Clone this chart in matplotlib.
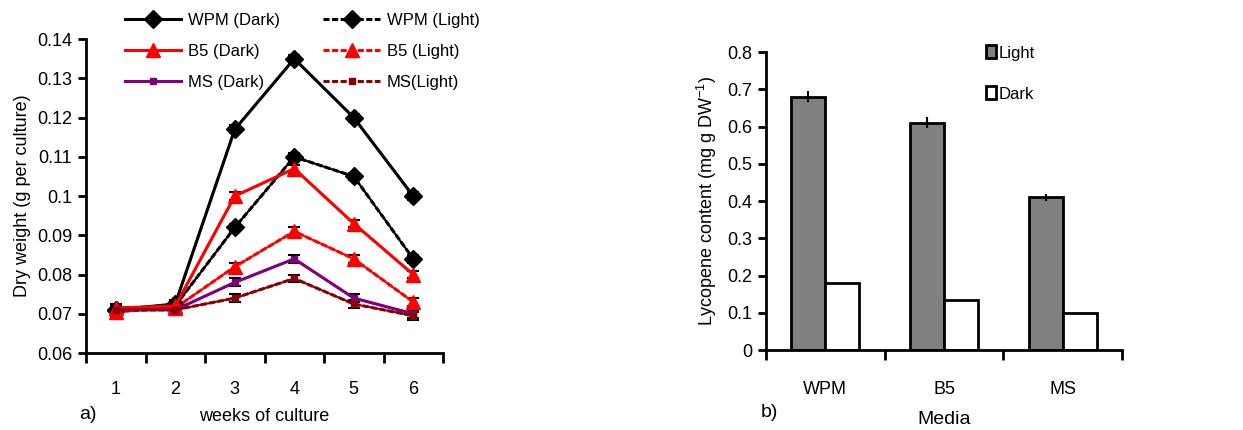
import numpy as np
import matplotlib
matplotlib.use("Agg")
import matplotlib.pyplot as plt
from matplotlib.patches import Patch

plt.rcParams['font.family'] = ['Liberation Sans', 'DejaVu Sans']
plt.rcParams['mathtext.default'] = 'regular'

# a) dry weight by week
weeks = [1, 2, 3, 4, 5, 6]
wpm_dark = [0.071, 0.0725, 0.117, 0.135, 0.120, 0.100]
wpm_light = [0.071, 0.072, 0.092, 0.110, 0.105, 0.084]
b5_dark = [0.0715, 0.072, 0.100, 0.107, 0.093, 0.080]
b5_light = [0.0705, 0.0715, 0.082, 0.091, 0.084, 0.073]
ms_dark = [0.071, 0.071, 0.078, 0.084, 0.074, 0.070]
ms_light = [0.071, 0.071, 0.074, 0.079, 0.0725, 0.0695]
err_a = 0.001

# b) lycopene content
media = ["WPM", "B5", "MS"]
lyc_light = [0.68, 0.61, 0.41]
lyc_dark = [0.18, 0.135, 0.10]
lyc_light_err = [0.015, 0.015, 0.01]

fig = plt.figure(figsize=(12.43, 4.30), dpi=100)

# ---- panel a
ax1 = fig.add_axes([0.0692, 0.179, 0.2872, 0.730])
dash = (0, (2, 0.8))
series = [
    (wpm_dark, "WPM (Dark)", "black", "-", "D", 9),
    (wpm_light, "WPM (Light)", "black", dash, "D", 9),
    (b5_dark, "B5 (Dark)", "#ff0000", "-", "^", 10),
    (b5_light, "B5 (Light)", "#ff0000", dash, "^", 10),
    (ms_dark, "MS (Dark)", "#800080", "-", "s", 5),
    (ms_light, "MS(Light)", "#8b0000", dash, "s", 5),
]
lines = {}
for vals, lab, col, ls, mk, ms in series:
    ax1.errorbar(weeks, vals, yerr=err_a, color=col, ecolor="black", elinewidth=1.5,
                 capsize=4, capthick=1.5, zorder=2)
    ln, = ax1.plot(weeks, vals, color=col, linestyle=ls, lw=2.2, marker=mk, markersize=ms,
                   label=lab, zorder=3)
    lines[lab] = ln

ax1.set_xlim(0.5, 6.5)
ax1.set_ylim(0.06, 0.14)
ax1.set_yticks(np.arange(0.06, 0.1401, 0.01))
ax1.set_yticklabels(["0.06", "0.07", "0.08", "0.09", "0.1", "0.11", "0.12", "0.13", "0.14"])
ax1.set_xticks(np.arange(0.5, 6.6, 1))
ax1.set_xticklabels([])
ax1.set_xticks(weeks, minor=True)
ax1.set_xticklabels([str(w) for w in weeks], minor=True)
ax1.tick_params(axis="x", which="minor", length=0, pad=20, labelsize=13)
ax1.tick_params(axis="x", which="major", length=7, width=2, direction="out")
ax1.tick_params(axis="y", length=6, width=2, direction="out", labelsize=13, pad=4)
for s in ["top", "right"]:
    ax1.spines[s].set_visible(False)
for s in ["left", "bottom"]:
    ax1.spines[s].set_linewidth(2)
ax1.set_ylabel("Dry weight (g per culture)", fontsize=13, labelpad=4)
ax1.set_xlabel("weeks of culture", fontsize=13, labelpad=7)
fig.text(0.064, 0.025, "a)", fontsize=14)
order = ["WPM (Dark)", "B5 (Dark)", "MS (Dark)", "WPM (Light)", "B5 (Light)", "MS(Light)"]
ax1.legend([lines[k] for k in order], order, loc="upper left", bbox_to_anchor=(0.095, 0.985),
           bbox_transform=fig.transFigure, ncol=2, frameon=False, fontsize=12,
           handlelength=3.4, labelspacing=0.95, columnspacing=2.6, handletextpad=0.4,
           borderaxespad=0)

# ---- panel b
ax2 = fig.add_axes([0.6163, 0.186, 0.2864, 0.693])
x = np.arange(len(media))
w = 0.2857
ax2.bar(x - w / 2, lyc_light, w, color="#808080", edgecolor="black", lw=2, label="Light",
        yerr=lyc_light_err, error_kw=dict(elinewidth=1.5, ecolor="black", capsize=0))
ax2.bar(x + w / 2, lyc_dark, w, color="white", edgecolor="black", lw=2, label="Dark")
ax2.set_xlim(-0.5, 2.5)
ax2.set_ylim(0, 0.8)
ax2.set_yticks(np.arange(0, 0.81, 0.1))
ax2.set_yticklabels(["0", "0.1", "0.2", "0.3", "0.4", "0.5", "0.6", "0.7", "0.8"])
ax2.set_xticks(np.arange(-0.5, 2.6, 1))
ax2.set_xticklabels([])
ax2.set_xticks(x, minor=True)
ax2.set_xticklabels(media, minor=True)
ax2.tick_params(axis="x", which="minor", length=0, pad=22, labelsize=13)
ax2.tick_params(axis="x", which="major", length=7, width=2, direction="out")
ax2.tick_params(axis="y", length=6, width=2, direction="out", labelsize=13, pad=4)
for s in ["top", "right"]:
    ax2.spines[s].set_visible(False)
for s in ["left", "bottom"]:
    ax2.spines[s].set_linewidth(2)
ax2.set_ylabel("Lycopene content (mg g DW$^{-1}$)", fontsize=13, labelpad=6)
ax2.set_xlabel("Media", fontsize=14, labelpad=10)
fig.text(0.612, 0.03, "b)", fontsize=14)
handles = [Patch(facecolor="#808080", edgecolor="black", lw=2),
           Patch(facecolor="white", edgecolor="black", lw=2)]
ax2.legend(handles, ["Light", "Dark"], loc="upper left", bbox_to_anchor=(0.788, 0.91),
           bbox_transform=fig.transFigure, frameon=False, fontsize=12, handlelength=0.6,
           handleheight=0.8, labelspacing=1.55, handletextpad=0.15, borderaxespad=0)

fig.savefig("out.png", dpi=100)
